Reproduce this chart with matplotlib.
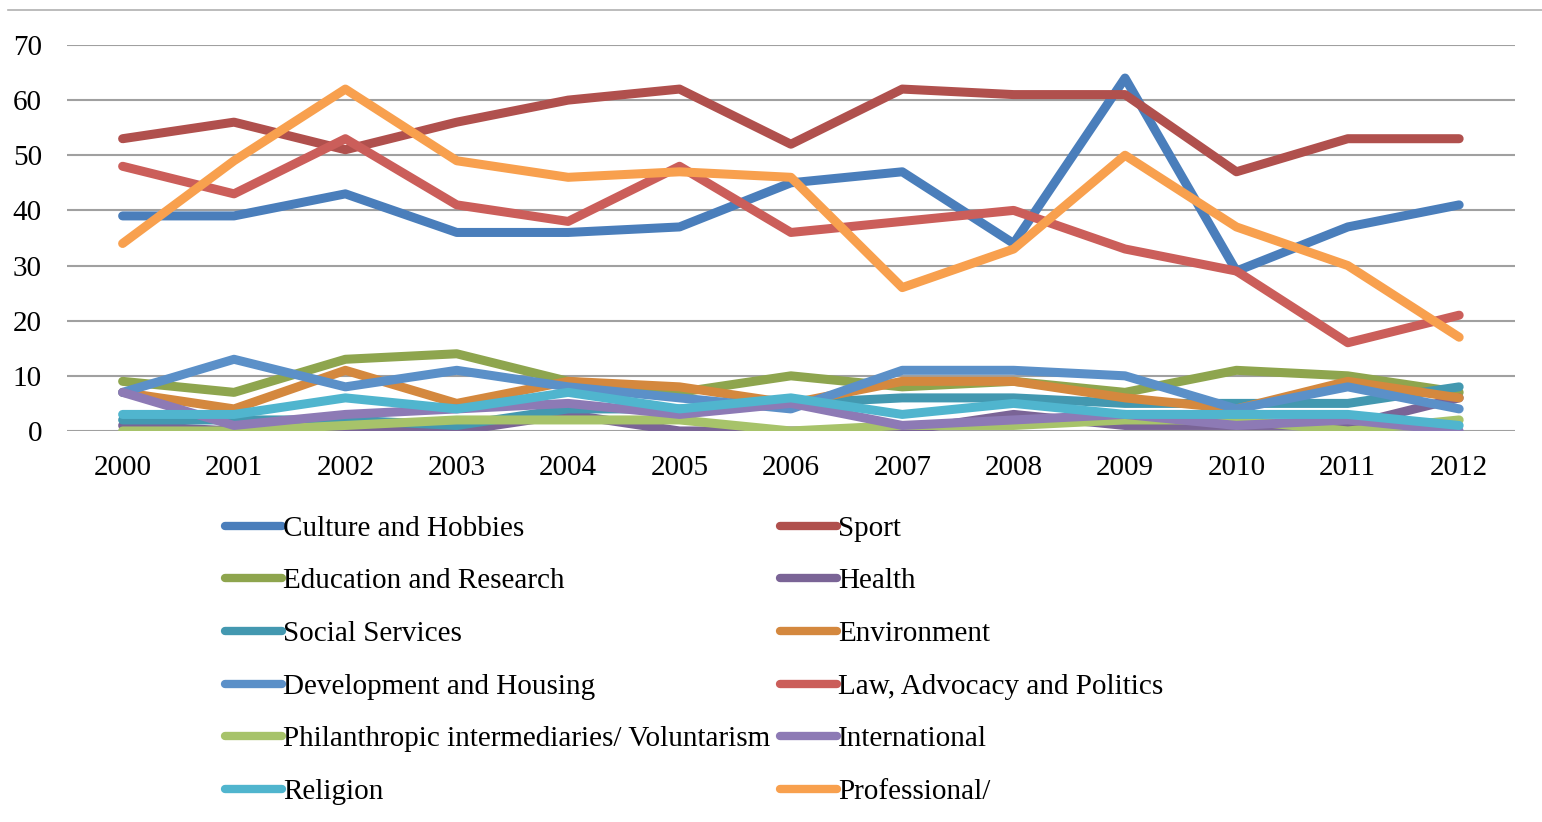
import numpy as np
import matplotlib
matplotlib.use("Agg")
import matplotlib.pyplot as plt
from matplotlib.lines import Line2D

plt.rcParams['font.family'] = ['Liberation Serif', 'DejaVu Serif']

years = [2000, 2001, 2002, 2003, 2004, 2005, 2006, 2007, 2008, 2009, 2010, 2011, 2012]

culture = [39, 39, 43, 36, 36, 37, 45, 47, 34, 64, 29, 37, 41]
sport = [53, 56, 51, 56, 60, 62, 52, 62, 61, 61, 47, 53, 53]
education = [9, 7, 13, 14, 9, 7, 10, 8, 9, 7, 11, 10, 7]
health = [1, 0, 0, 0, 3, 0, 0, 0, 3, 1, 1, 1, 6]
social = [2, 2, 2, 1, 4, 4, 5, 6, 6, 5, 5, 5, 8]
environment = [7, 4, 11, 5, 9, 8, 5, 9, 9, 6, 4, 9, 6]
development = [7, 13, 8, 11, 8, 6, 4, 11, 11, 10, 4, 8, 4]
law = [48, 43, 53, 41, 38, 48, 36, 38, 40, 33, 29, 16, 21]
philanthropic = [0, 0, 1, 2, 2, 2, 0, 1, 1, 2, 2, 0, 2]
international = [7, 1, 3, 4, 5, 3, 5, 1, 2, 3, 1, 2, 0]
religion = [3, 3, 6, 4, 7, 4, 6, 3, 5, 3, 3, 3, 1]
professional = [34, 49, 62, 49, 46, 47, 46, 26, 33, 50, 37, 30, 17]

series = [
    ('Culture and Hobbies', culture, '#4A7EBB'),
    ('Sport', sport, '#B0504D'),
    ('Education and Research', education, '#8EA54E'),
    ('Health', health, '#7A6496'),
    ('Social Services', social, '#4398B0'),
    ('Environment', environment, '#D4883E'),
    ('Development and Housing', development, '#5B90C8'),
    ('Law, Advocacy and Politics', law, '#CB5E5A'),
    ('Philanthropic intermediaries/ Voluntarism', philanthropic, '#A7C36A'),
    ('International', international, '#8D7AB5'),
    ('Religion', religion, '#50B5CE'),
    ('Professional/', professional, '#F8A04E'),
]

fig = plt.figure(figsize=(15.42, 8.22), dpi=100)
ax = fig.add_axes([0.0434, 0.4757, 0.939, 0.4696])

x = np.arange(len(years))
handles = []
for name, vals, col in series:
    ln, = ax.plot(x, vals, color=col, lw=6.5, solid_capstyle='round',
                  solid_joinstyle='round', label=name)
    handles.append(ln)

ax.set_xlim(-0.5, 12.5)
ax.set_ylim(0, 70)
ax.set_yticks(range(0, 71, 10))
ax.set_xticks(x)
ax.set_xticklabels([str(y) for y in years])
ax.grid(axis='y', color='#A0A0A0', lw=1.5)
ax.set_axisbelow(True)
for s in ax.spines.values():
    s.set_visible(False)
ax.tick_params(length=0, labelsize=21, colors='black')
ax.tick_params(axis='x', pad=17)
ax.tick_params(axis='y', pad=18)

# reorder so the legend reads row by row in two columns
order = handles[0::2] + handles[1::2]
leg = fig.legend(handles=order, labels=[h.get_label() for h in order],
                 ncol=2, loc='upper left', bbox_to_anchor=(0.146, 0.373),
                 frameon=False, fontsize=21, handlelength=1.95,
                 handletextpad=0.05, columnspacing=0.32, labelspacing=0.9,
                 borderpad=0, borderaxespad=0)
for h in leg.legend_handles:
    h.set_linewidth(6.0)

fig.add_artist(Line2D([0.005, 1.0], [1 - 10 / 822, 1 - 10 / 822],
                      transform=fig.transFigure, color='#B0B0B0', lw=1.2))

fig.savefig('out.png', dpi=100)
